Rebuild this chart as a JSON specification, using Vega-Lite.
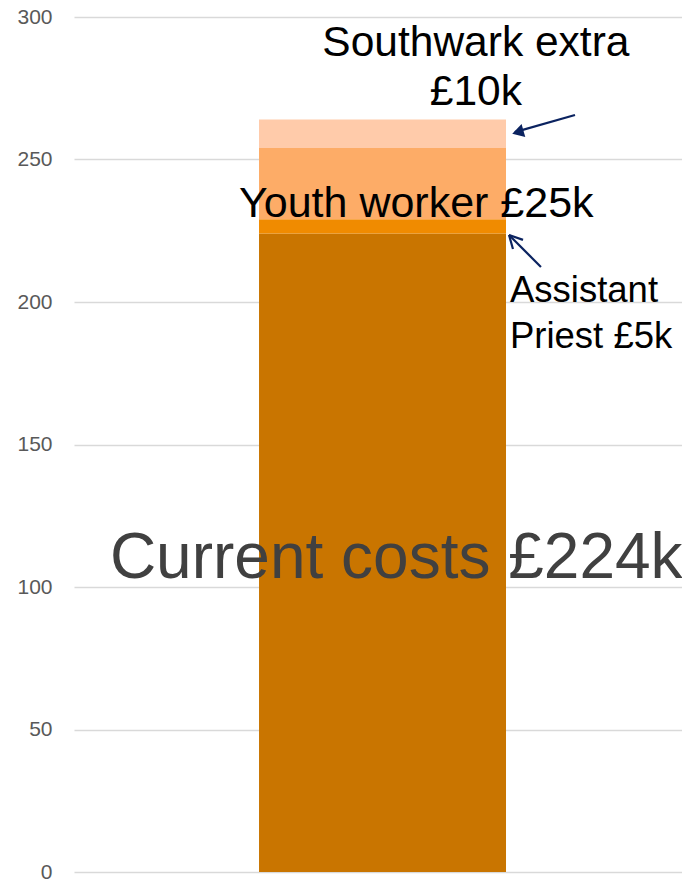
{
  "$schema": "https://vega.github.io/schema/vega-lite/v6.json",
  "width": 608,
  "height": 855,
  "autosize": "none",
  "padding": {"left": 74, "top": 17, "right": 0, "bottom": 9},
  "background": "white",
  "config": {
    "view": {"stroke": null},
    "font": "Liberation Sans",
    "axis": {"labelFont": "Liberation Sans"}
  },
  "resolve": {"scale": {"x": "independent"}},
  "layer": [
    {
      "data": {"values": [
        {"group": "Total", "segment": "Current costs", "value": 224, "order": 1},
        {"group": "Total", "segment": "Assistant Priest", "value": 5, "order": 2},
        {"group": "Total", "segment": "Youth worker", "value": 25, "order": 3},
        {"group": "Total", "segment": "Southwark extra", "value": 10, "order": 4}
      ]},
      "mark": {"type": "bar"},
      "encoding": {
        "x": {"field": "group", "type": "nominal", "axis": null,
              "scale": {"paddingInner": 0, "paddingOuter": 0.7308, "align": 0.5125}},
        "y": {"field": "value", "type": "quantitative", "stack": "zero",
              "scale": {"domain": [0, 300], "nice": false},
              "axis": {"values": [0, 50, 100, 150, 200, 250, 300], "title": null,
                       "domain": false, "ticks": false, "grid": true,
                       "gridColor": "#d9d9d9", "gridWidth": 1.5,
                       "labelFontSize": 21, "labelColor": "#595959", "labelPadding": 22}},
        "color": {"field": "segment", "type": "nominal", "legend": null,
                  "scale": {"domain": ["Current costs", "Assistant Priest", "Youth worker", "Southwark extra"],
                            "range": ["#C97500", "#F08B00", "#FDAC67", "#FFCBAA"]}},
        "order": {"field": "order", "type": "quantitative"}
      }
    },
    {
      "data": {"values": [
        {"x": 8.24, "y": 265.6, "x2": 7.25, "y2": 259.6},
        {"x": 7.68, "y": 212.3, "x2": 7.155, "y2": 223.5},
        {"x": 7.155, "y": 223.5, "x2": 7.385, "y2": 221.8},
        {"x": 7.155, "y": 223.5, "x2": 7.22, "y2": 218.6}
      ]},
      "mark": {"type": "rule", "color": "#0B2360", "strokeWidth": 2.2},
      "encoding": {
        "x": {"field": "x", "type": "quantitative", "scale": {"domain": [0, 10]}, "axis": null},
        "y": {"field": "y", "type": "quantitative"},
        "x2": {"field": "x2"},
        "y2": {"field": "y2"}
      }
    },
    {
      "data": {"values": [{"x": 7.3, "y": 259.6}]},
      "mark": {"type": "point", "shape": "triangle-left", "filled": true, "color": "#0B2360",
               "opacity": 1, "size": 180, "angle": 344},
      "encoding": {
        "x": {"field": "x", "type": "quantitative", "scale": {"domain": [0, 10]}, "axis": null},
        "y": {"field": "y", "type": "quantitative"}
      }
    },
    {
      "data": {"values": [{"label": "Current costs £224k", "x": 5.3, "y": 103}]},
      "mark": {"type": "text", "font": "Liberation Sans", "fontSize": 64, "color": "#404040",
               "align": "center", "baseline": "alphabetic"},
      "encoding": {
        "x": {"field": "x", "type": "quantitative", "scale": {"domain": [0, 10]}, "axis": null},
        "y": {"field": "y", "type": "quantitative"},
        "text": {"field": "label"}
      }
    },
    {
      "data": {"values": [{"label": "Youth worker £25k", "x": 5.63, "y": 229.8}]},
      "mark": {"type": "text", "font": "Liberation Sans", "fontSize": 43, "color": "#000000",
               "align": "center", "baseline": "alphabetic"},
      "encoding": {
        "x": {"field": "x", "type": "quantitative", "scale": {"domain": [0, 10]}, "axis": null},
        "y": {"field": "y", "type": "quantitative"},
        "text": {"field": "label"}
      }
    },
    {
      "data": {"values": [{"label": ["Southwark extra", "£10k"], "x": 6.61, "y": 286.3}]},
      "mark": {"type": "text", "font": "Liberation Sans", "fontSize": 42.5, "color": "#000000",
               "align": "center", "baseline": "alphabetic", "lineHeight": 49},
      "encoding": {
        "x": {"field": "x", "type": "quantitative", "scale": {"domain": [0, 10]}, "axis": null},
        "y": {"field": "y", "type": "quantitative"},
        "text": {"field": "label"}
      }
    },
    {
      "data": {"values": [{"label": ["Assistant", "Priest £5k"], "x": 7.17, "y": 200}]},
      "mark": {"type": "text", "font": "Liberation Sans", "fontSize": 36.5, "color": "#000000",
               "align": "left", "baseline": "alphabetic", "lineHeight": 46},
      "encoding": {
        "x": {"field": "x", "type": "quantitative", "scale": {"domain": [0, 10]}, "axis": null},
        "y": {"field": "y", "type": "quantitative"},
        "text": {"field": "label"}
      }
    }
  ]
}
